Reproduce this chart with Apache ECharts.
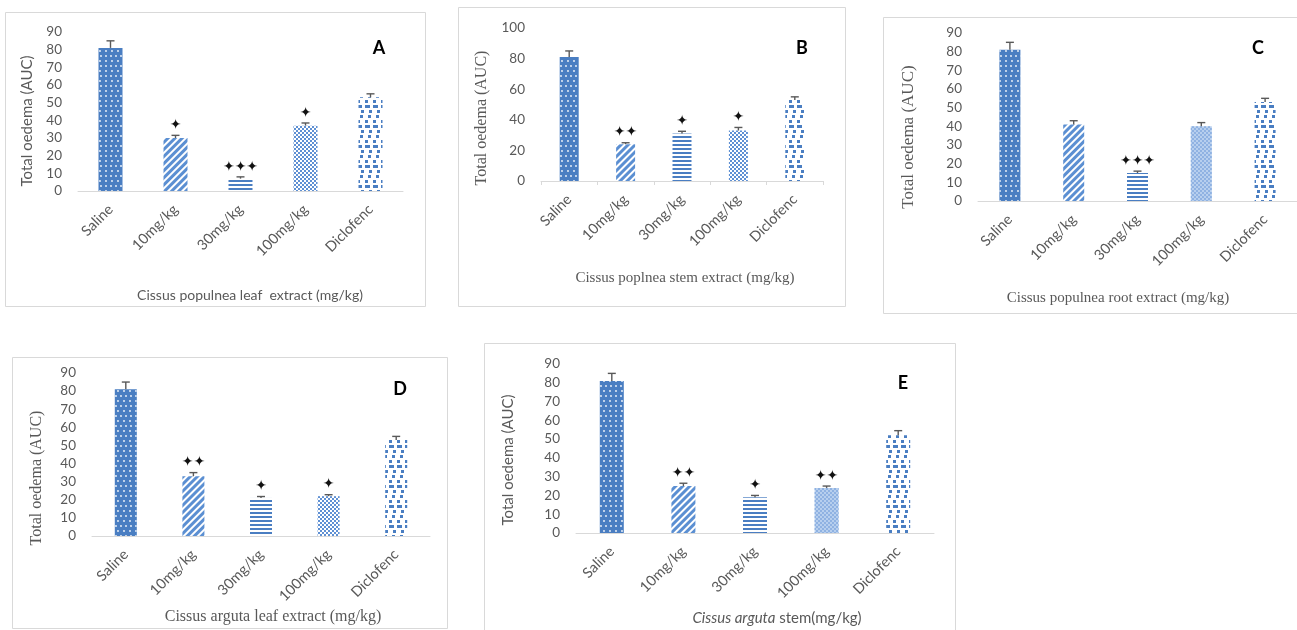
<!DOCTYPE html>
<html>
<head>
<meta charset="utf-8">
<script src="https://cdn.jsdelivr.net/npm/echarts@6/dist/echarts.min.js"></script>
<style>
html,body{margin:0;padding:0;background:#fff;}
#chart{width:1297px;height:630px;}
</style>
</head>
<body>
<div id="chart"></div>
<script>
// ---------- DATA ----------
const categories = ['Saline', '10mg/kg', '30mg/kg', '100mg/kg', 'Diclofenc'];

const valuesA = [81, 30, 7, 37, 53];
const errorsA = [4, 1.5, 1, 1.5, 2];
const starsA  = ['', '*', '***', '*', ''];

const valuesB = [81, 24, 31, 33, 53];
const errorsB = [4, 1, 1.5, 2, 2];
const starsB  = ['', '**', '*', '*', ''];

const valuesC = [81, 41, 15, 40, 53];
const errorsC = [4, 2, 1, 2, 2];
const starsC  = ['', '', '***', '', ''];

const valuesD = [81, 33, 21, 22, 53];
const errorsD = [4, 2, 0.8, 0.8, 2];
const starsD  = ['', '**', '*', '*', ''];

const valuesE = [81, 25, 19, 24, 52];
const errorsE = [4, 1.5, 1, 1, 2.5];
const starsE  = ['', '**', '*', '**', ''];

const yTicksA = { min: 0, max: 90, interval: 10 };
const yTicksB = { min: 0, max: 100, interval: 20 };
const yTicksC = { min: 0, max: 90, interval: 10 };
const yTicksD = { min: 0, max: 90, interval: 10 };
const yTicksE = { min: 0, max: 90, interval: 10 };

const yTitle = 'Total oedema (AUC)';
const xTitleA = 'Cissus populnea leaf  extract (mg/kg)';
const xTitleB = 'Cissus poplnea stem extract (mg/kg)';
const xTitleC = 'Cissus populnea root extract (mg/kg)';
const xTitleD = 'Cissus arguta leaf extract (mg/kg)';
const xTitleE1 = 'Cissus arguta';
const xTitleE2 = ' stem(mg/kg)';
const panelLetters = ['A', 'B', 'C', 'D', 'E'];

// ---------- STYLE ----------
const BLUE = '#4a7ec2';
const GREY = '#595959';
const LINE = '#d9d9d9';
const SANS = 'Lato, "Open Sans", sans-serif';
const SERIF = '"Liberation Serif", "DejaVu Serif", serif';

function patterns(lightHundred) {
  return [
    { color: BLUE, decal: { symbol: 'circle', color: 'rgba(255,255,255,0.95)', dashArrayX: [[2, 3], [0, 2.5, 2, 0.5]], dashArrayY: [2, 3], symbolSize: 0.9 } },
    { color: '#ffffff', decal: { symbol: 'rect', color: '#5b8fd2', dashArrayX: [1, 0], dashArrayY: [3, 2], rotation: -Math.PI / 4 } },
    { color: '#ffffff', decal: { symbol: 'rect', color: BLUE, dashArrayX: [1, 0], dashArrayY: [2, 2] } },
    { color: lightHundred ? '#b7cfee' : '#ffffff', decal: { symbol: 'rect', color: lightHundred ? '#8fb2e2' : '#5f90d3', dashArrayX: [[2, 2], [0, 2, 2, 0]], dashArrayY: [2, 0] } },
    { color: '#ffffff', decal: { symbol: 'rect', color: BLUE, dashArrayX: [[3, 5], [0, 5, 3, 0], [2, 3, 3, 0], [0, 1, 3, 4]], dashArrayY: [3, 2] } }
  ];
}

const panels = [
  { vals: valuesA, errs: errorsA, stars: starsA, ticks: yTicksA, grid: { left: 78, top: 32, width: 325, height: 159 }, barW: 24, tick: false, light: false },
  { vals: valuesB, errs: errorsB, stars: starsB, ticks: yTicksB, grid: { left: 541, top: 28, width: 282, height: 153 }, barW: 19, tick: true, light: false },
  { vals: valuesC, errs: errorsC, stars: starsC, ticks: yTicksC, grid: { left: 978, top: 33, width: 321, height: 168 }, barW: 21, tick: false, light: true },
  { vals: valuesD, errs: errorsD, stars: starsD, ticks: yTicksD, grid: { left: 92, top: 373, width: 338, height: 163 }, barW: 22, tick: false, light: false },
  { vals: valuesE, errs: errorsE, stars: starsE, ticks: yTicksE, grid: { left: 576, top: 364, width: 358, height: 169 }, barW: 24, tick: false, light: true }
];

const grid = [], xAxis = [], yAxis = [], series = [];
panels.forEach((p, i) => {
  grid.push(Object.assign({ containLabel: false }, p.grid));
  xAxis.push({
    type: 'category', gridIndex: i, data: categories,
    axisLine: { lineStyle: { color: LINE, width: 1 } },
    axisTick: { show: p.tick, length: 4, lineStyle: { color: LINE } },
    axisLabel: { rotate: 45, color: GREY, fontSize: 14.5, fontFamily: SANS, margin: 16, interval: 0 }
  });
  yAxis.push({
    type: 'value', gridIndex: i, min: p.ticks.min, max: p.ticks.max, interval: p.ticks.interval,
    axisLine: { show: false }, axisTick: { show: false }, splitLine: { show: false },
    axisLabel: { color: GREY, fontSize: 13.5, fontFamily: SANS, margin: 16 }
  });
  const pats = patterns(p.light);
  series.push({
    type: 'bar', xAxisIndex: i, yAxisIndex: i, barWidth: p.barW,
    data: p.vals.map((v, k) => ({ value: v, itemStyle: { color: pats[k].color, decal: pats[k].decal } })),
    silent: true
  });
  const stars = p.stars;
  series.push({
    type: 'custom', xAxisIndex: i, yAxisIndex: i, silent: true, z: 5,
    data: p.vals.map((v, k) => [k, v, p.errs[k]]),
    renderItem: function (params, api) {
      const k = api.value(0), v = api.value(1), e = api.value(2);
      const b = api.coord([k, v]);
      const t = api.coord([k, v + e]);
      const children = [
        { type: 'line', shape: { x1: b[0], y1: b[1], x2: t[0], y2: t[1] }, style: { stroke: GREY, lineWidth: 1.4 } },
        { type: 'line', shape: { x1: t[0] - 4, y1: t[1], x2: t[0] + 4, y2: t[1] }, style: { stroke: GREY, lineWidth: 1.4 } }
      ];
      const s = stars[params.dataIndex];
      if (s) {
        children.push({
          type: 'text',
          style: { text: s.replace(/\*/g, '\u2726'), x: t[0], y: t[1] - 3, align: 'center', verticalAlign: 'bottom',
                   fill: '#111', font: 'bold 14px "DejaVu Sans"' }
        });
      }
      return { type: 'group', children: children };
    }
  });
});

// ---------- Panel frames & titles ----------
const boxes = [
  { x: 5, y: 12, w: 420, h: 294 },
  { x: 458, y: 7, w: 387, h: 299 },
  { x: 883, y: 17, w: 420, h: 296 },
  { x: 12, y: 357, w: 435, h: 271 },
  { x: 484, y: 343, w: 471, h: 300 }
];
const graphic = [];
boxes.forEach(b => graphic.push({ type: 'rect', shape: { x: b.x + 0.5, y: b.y + 0.5, width: b.w, height: b.h }, style: { fill: 'none', stroke: LINE, lineWidth: 1 }, silent: true, z: -1 }));

const yTitles = [
  { x: 27, y: 121, font: '15px ' + SANS },
  { x: 482, y: 118, font: '16px ' + SERIF },
  { x: 909, y: 137, font: '17px ' + SERIF },
  { x: 37, y: 478, font: '16px ' + SERIF },
  { x: 508, y: 460, font: '15px ' + SANS }
];
yTitles.forEach(t => graphic.push({ type: 'text', x: t.x, y: t.y, rotation: Math.PI / 2, silent: true,
  style: { text: yTitle, font: t.font, fill: GREY, align: 'center', verticalAlign: 'middle' } }));

const xTitles = [
  { x: 250, y: 295, text: xTitleA, font: '14px ' + SANS },
  { x: 685, y: 278, text: xTitleB, font: '15px ' + SERIF },
  { x: 1118, y: 298, text: xTitleC, font: '15px ' + SERIF },
  { x: 273, y: 617, text: xTitleD, font: '16px ' + SERIF }
];
xTitles.forEach(t => graphic.push({ type: 'text', x: t.x, y: t.y, silent: true,
  style: { text: t.text, font: t.font, fill: GREY, align: 'center', verticalAlign: 'middle' } }));
graphic.push({ type: 'text', x: 777, y: 618, silent: true,
  style: { text: '{i|' + xTitleE1 + '}{n|' + xTitleE2 + '}', align: 'center', verticalAlign: 'middle',
    rich: { i: { fontStyle: 'italic', fontSize: 15, fontFamily: SANS, fill: GREY, color: GREY },
            n: { fontSize: 15, fontFamily: SANS, fill: GREY, color: GREY } } } });

const letterPos = [[379, 48], [802, 48], [1258, 48], [400, 389], [903, 383]];
letterPos.forEach((p, i) => graphic.push({ type: 'text', x: p[0], y: p[1], silent: true,
  style: { text: panelLetters[i], font: 'bold 18px ' + SANS, fill: '#000', align: 'center', verticalAlign: 'middle' } }));

const chart = echarts.init(document.getElementById('chart'), null, { renderer: 'canvas' });
chart.setOption({
  animation: false,
  backgroundColor: '#ffffff',
  grid: grid, xAxis: xAxis, yAxis: yAxis, series: series, graphic: graphic
});
</script>
</body>
</html>
